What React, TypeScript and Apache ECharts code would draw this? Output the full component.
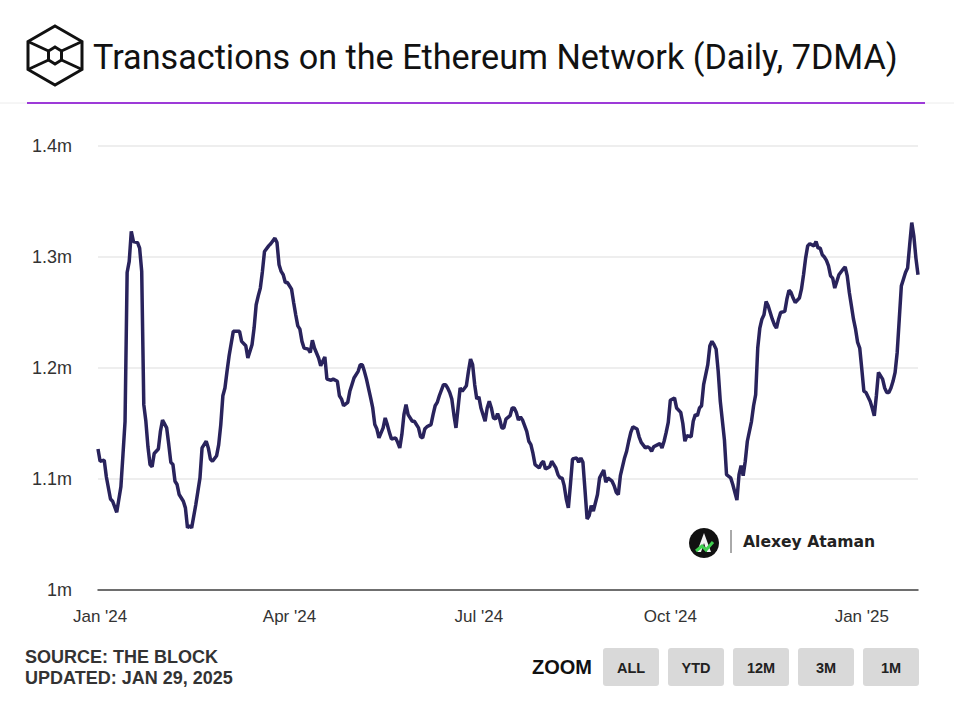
import React, { useEffect, useRef } from "react";
import * as echarts from "echarts";

// Days counted from 2024-01-01 (UTC)
const dayOffsets = [
  -1, 0, 2, 3, 5, 6, 8, 10, 11, 12, 13, 14, 15, 16, 18, 19, 20, 21, 22, 23, 24, 25, 26, 28, 29, 30, 32, 33, 34, 35, 36, 37, 38, 40, 41, 42, 43, 44, 46, 47, 48, 49, 51, 52, 53, 54, 56, 57, 58, 59, 60, 61, 62, 64, 65, 67, 68, 70, 71, 73, 74, 75, 76, 77, 78, 79, 81, 82, 84, 85, 86, 87, 88, 89, 90, 92, 93, 94, 95, 96, 97, 98, 100, 101, 102, 103, 105, 106, 107, 108, 109, 111, 112, 114, 115, 116, 117, 119, 120, 121, 122, 124, 125, 126, 127, 128, 130, 131, 132, 133, 134, 136, 137, 138, 139, 140, 142, 143, 144, 145, 146, 147, 148, 150, 151, 153, 154, 155, 156, 157, 159, 160, 161, 162, 163, 165, 166, 167, 168, 169, 170, 171, 172, 173, 174, 176, 177, 178, 179, 180, 181, 182, 183, 185, 186, 187, 188, 189, 190, 191, 192, 193, 194, 195, 197, 198, 199, 200, 201, 202, 203, 205, 206, 207, 208, 209, 211, 212, 213, 214, 215, 216, 217, 219, 220, 221, 222, 223, 224, 225, 226, 227, 229, 230, 231, 232, 233, 234, 235, 236, 237, 239, 240, 242, 243, 244, 246, 247, 248, 249, 250, 252, 253, 254, 255, 256, 258, 259, 260, 262, 263, 264, 265, 266, 268, 269, 270, 271, 272, 273, 274, 276, 277, 279, 280, 281, 282, 284, 285, 286, 287, 288, 289, 290, 292, 293, 294, 295, 296, 297, 298, 300, 301, 303, 304, 305, 306, 307, 308, 309, 310, 311, 313, 314, 315, 316, 317, 318, 319, 320, 321, 323, 324, 325, 326, 327, 329, 330, 331, 332, 333, 334, 336, 337, 338, 339, 340, 341, 343, 344, 345, 346, 347, 348, 349, 350, 351, 352, 353, 354, 355, 357, 358, 359, 360, 361, 362, 363, 364, 365, 366, 367, 368, 370, 371, 372, 373, 374, 376, 377, 378, 379, 380, 381, 382, 383, 384, 385, 386, 387, 388, 389, 390, 391, 392, 393,
];

// 7-day moving average of daily transactions, in millions
const txMillions = [
  1.127, 1.116, 1.117, 1.102, 1.082, 1.08, 1.07, 1.093, 1.122, 1.152, 1.286, 1.296, 1.323, 1.314, 1.313, 1.308, 1.287, 1.167, 1.152, 1.129, 1.113, 1.111, 1.123, 1.127, 1.143, 1.153, 1.146, 1.131, 1.115, 1.113, 1.098, 1.095, 1.086, 1.08, 1.074, 1.056, 1.058, 1.056, 1.077, 1.089, 1.101, 1.128, 1.134, 1.128, 1.118, 1.116, 1.121, 1.131, 1.149, 1.175, 1.182, 1.197, 1.211, 1.233, 1.233, 1.233, 1.224, 1.22, 1.209, 1.221, 1.236, 1.257, 1.265, 1.272, 1.287, 1.305, 1.31, 1.312, 1.317, 1.313, 1.293, 1.287, 1.284, 1.277, 1.277, 1.271, 1.259, 1.248, 1.238, 1.235, 1.224, 1.218, 1.217, 1.214, 1.225, 1.218, 1.209, 1.202, 1.206, 1.21, 1.19, 1.189, 1.19, 1.188, 1.175, 1.172, 1.166, 1.169, 1.179, 1.185, 1.191, 1.197, 1.203, 1.203, 1.197, 1.19, 1.173, 1.164, 1.149, 1.145, 1.137, 1.146, 1.155, 1.149, 1.142, 1.136, 1.137, 1.133, 1.128, 1.14, 1.158, 1.167, 1.158, 1.152, 1.152, 1.146, 1.138, 1.137, 1.145, 1.147, 1.149, 1.158, 1.166, 1.169, 1.175, 1.185, 1.185, 1.182, 1.178, 1.172, 1.158, 1.146, 1.164, 1.182, 1.179, 1.184, 1.197, 1.208, 1.203, 1.185, 1.172, 1.174, 1.164, 1.152, 1.164, 1.17, 1.164, 1.155, 1.154, 1.159, 1.154, 1.146, 1.146, 1.154, 1.157, 1.164, 1.164, 1.16, 1.153, 1.156, 1.153, 1.143, 1.134, 1.131, 1.123, 1.113, 1.11, 1.114, 1.116, 1.109, 1.11, 1.111, 1.116, 1.11, 1.104, 1.101, 1.101, 1.094, 1.082, 1.074, 1.095, 1.118, 1.119, 1.115, 1.119, 1.115, 1.09, 1.064, 1.067, 1.076, 1.071, 1.086, 1.101, 1.108, 1.097, 1.101, 1.098, 1.094, 1.088, 1.086, 1.103, 1.119, 1.125, 1.134, 1.142, 1.147, 1.145, 1.138, 1.133, 1.128, 1.129, 1.128, 1.125, 1.129, 1.131, 1.132, 1.128, 1.134, 1.142, 1.151, 1.171, 1.173, 1.164, 1.16, 1.15, 1.134, 1.139, 1.138, 1.152, 1.158, 1.157, 1.164, 1.166, 1.185, 1.203, 1.22, 1.224, 1.221, 1.217, 1.197, 1.17, 1.135, 1.104, 1.101, 1.095, 1.088, 1.081, 1.104, 1.112, 1.103, 1.116, 1.134, 1.152, 1.166, 1.176, 1.218, 1.236, 1.244, 1.248, 1.26, 1.256, 1.244, 1.239, 1.236, 1.244, 1.25, 1.251, 1.262, 1.27, 1.268, 1.263, 1.259, 1.263, 1.271, 1.284, 1.299, 1.31, 1.312, 1.31, 1.314, 1.308, 1.308, 1.302, 1.3, 1.297, 1.292, 1.283, 1.281, 1.272, 1.278, 1.284, 1.289, 1.291, 1.283, 1.268, 1.256, 1.244, 1.235, 1.223, 1.218, 1.199, 1.179, 1.178, 1.17, 1.164, 1.157, 1.175, 1.196, 1.19, 1.182, 1.178, 1.178, 1.182, 1.188, 1.196, 1.214, 1.244, 1.274, 1.28, 1.286, 1.29, 1.311, 1.331, 1.319, 1.299, 1.284,
];

const tickDates = ["2024-01-01", "2024-04-01", "2024-07-01", "2024-10-01", "2025-01-01"];
const tickLabels = ["Jan '24", "Apr '24", "Jul '24", "Oct '24", "Jan '25"];
const yTicks = [1, 1.1, 1.2, 1.3, 1.4];
const zoomButtons = ["ALL", "YTD", "12M", "3M", "1M"];

const TITLE = "Transactions on the Ethereum Network (Daily, 7DMA)";
const SOURCE = "SOURCE: THE BLOCK";
const UPDATED = "UPDATED: JAN 29, 2025";
const AUTHOR = "Alexey Ataman";

const DAY = 86400000;
const START = Date.UTC(2024, 0, 1);

export default function App() {
  const ref = useRef<HTMLDivElement>(null);

  useEffect(() => {
    if (!ref.current) return;
    const chart = echarts.init(ref.current, null, { renderer: "svg" });

    const data = dayOffsets.map((d, i) => [d, txMillions[i]]);
    const tickDays = tickDates.map((s) =>
      Math.round((new Date(s + "T00:00:00Z").getTime() - START) / DAY)
    );

    const labelFor = (v: number) => {
      const idx = tickDays.indexOf(Math.round(v));
      return idx >= 0 ? tickLabels[idx] : "";
    };

    const btnX = [603, 668, 733, 798, 863];
    const buttons: any[] = [];
    zoomButtons.forEach((b, i) => {
      buttons.push({
        type: "rect",
        shape: { x: btnX[i], y: 648, width: 56, height: 38, r: 3 },
        style: { fill: "#d9d9d9" },
        silent: true,
      });
      buttons.push({
        type: "text",
        style: {
          text: b,
          x: btnX[i] + 28,
          y: 668,
          textAlign: "center",
          textVerticalAlign: "middle",
          fontSize: 14.5,
          fontWeight: "bold",
          fontFamily: "Liberation Sans",
          fill: "#222",
        },
      });
    });

    const logoStroke = { stroke: "#111", lineWidth: 3, fill: "none", lineJoin: "miter" };

    chart.setOption({
      animation: false,
      backgroundColor: "#ffffff",
      grid: { left: 98, right: 36, top: 146, bottom: 116, containLabel: false },
      xAxis: {
        type: "value",
        min: dayOffsets[0],
        max: dayOffsets[dayOffsets.length - 1],
        axisLine: { show: true, lineStyle: { color: "#444", width: 1.5 } },
        axisTick: { show: false },
        splitLine: { show: false },
        axisLabel: {
          customValues: tickDays,
          formatter: (v: number) => labelFor(v),
          color: "#333",
          fontSize: 17,
          fontFamily: "Liberation Sans",
          margin: 18,
          showMinLabel: true,
          showMaxLabel: true,
        },
      },
      yAxis: {
        type: "value",
        min: 1,
        max: 1.4,
        interval: 0.1,
        axisLine: { show: false },
        axisTick: { show: false },
        splitLine: { show: true, lineStyle: { color: "#e9e9e9", width: 1.5 } },
        axisLabel: {
          formatter: (v: number) => {
            const r = Math.round(v * 10) / 10;
            return yTicks.includes(r) ? r + "m" : "";
          },
          color: "#333",
          fontSize: 18,
          fontFamily: "Liberation Sans",
          margin: 26,
        },
      },
      series: [
        {
          type: "line",
          data,
          symbol: "none",
          lineStyle: { color: "#29235c", width: 3.5 },
          itemStyle: { color: "#29235c" },
          silent: true,
        },
      ],
      graphic: [
        // logo
        {
          type: "polygon",
          shape: { points: [[55, 26], [82, 41.5], [82, 69.5], [55, 85], [28, 69.5], [28, 41.5]] },
          style: logoStroke,
        },
        {
          type: "polygon",
          shape: { points: [[55, 47], [61.5, 51], [61.5, 60], [55, 64], [48.5, 60], [48.5, 51]] },
          style: logoStroke,
        },
        { type: "line", shape: { x1: 28, y1: 41.5, x2: 48.5, y2: 51 }, style: logoStroke },
        { type: "line", shape: { x1: 82, y1: 41.5, x2: 61.5, y2: 51 }, style: logoStroke },
        { type: "line", shape: { x1: 28, y1: 69.5, x2: 48.5, y2: 60 }, style: logoStroke },
        { type: "line", shape: { x1: 82, y1: 69.5, x2: 61.5, y2: 60 }, style: logoStroke },
        // title
        {
          type: "text",
          style: {
            text: TITLE,
            x: 93,
            y: 57,
            textVerticalAlign: "middle",
            fontSize: 34.2,
            fontFamily: "Roboto",
            fill: "#111",
          },
        },
        // separator lines
        { type: "line", shape: { x1: 0, y1: 103, x2: 954, y2: 103 }, style: { stroke: "#ececec", lineWidth: 1 } },
        { type: "line", shape: { x1: 27, y1: 103, x2: 925, y2: 103 }, style: { stroke: "#9d3ad8", lineWidth: 2 } },
        // watermark
        { type: "circle", shape: { cx: 704, cy: 543, r: 15 }, style: { fill: "#111" } },
        {
          type: "polygon",
          shape: { points: [[697, 552], [704, 533], [711, 552], [707, 552], [704, 543], [701, 552]] },
          style: { fill: "#f2f2f2" },
        },
        {
          type: "polyline",
          shape: { points: [[696, 551], [702, 546], [706, 550], [713, 542]] },
          style: { stroke: "#3fcf4f", lineWidth: 3, fill: "none" },
        },
        { type: "line", shape: { x1: 731, y1: 530, x2: 731, y2: 553 }, style: { stroke: "#555", lineWidth: 1 } },
        {
          type: "text",
          style: {
            text: AUTHOR,
            x: 743,
            y: 542,
            textVerticalAlign: "middle",
            fontSize: 15.6,
            fontWeight: "bold",
            fontFamily: "DejaVu Sans",
            fill: "#222",
          },
        },
        // footer
        {
          type: "text",
          style: {
            text: SOURCE,
            x: 25,
            y: 657,
            textVerticalAlign: "middle",
            fontSize: 18,
            fontWeight: "bold",
            fontFamily: "Liberation Sans",
            fill: "#333",
          },
        },
        {
          type: "text",
          style: {
            text: UPDATED,
            x: 25,
            y: 678,
            textVerticalAlign: "middle",
            fontSize: 18,
            fontWeight: "bold",
            fontFamily: "Liberation Sans",
            fill: "#333",
          },
        },
        {
          type: "text",
          style: {
            text: "ZOOM",
            x: 592,
            y: 667,
            textAlign: "right",
            textVerticalAlign: "middle",
            fontSize: 20,
            fontWeight: "bold",
            fontFamily: "Liberation Sans",
            fill: "#111",
          },
        },
        ...buttons,
      ],
    });

    return () => chart.dispose();
  }, []);

  return (
    <div
      ref={ref}
      style={{ position: "absolute", left: 0, top: 0, width: 954, height: 706, background: "#fff" }}
    />
  );
}
